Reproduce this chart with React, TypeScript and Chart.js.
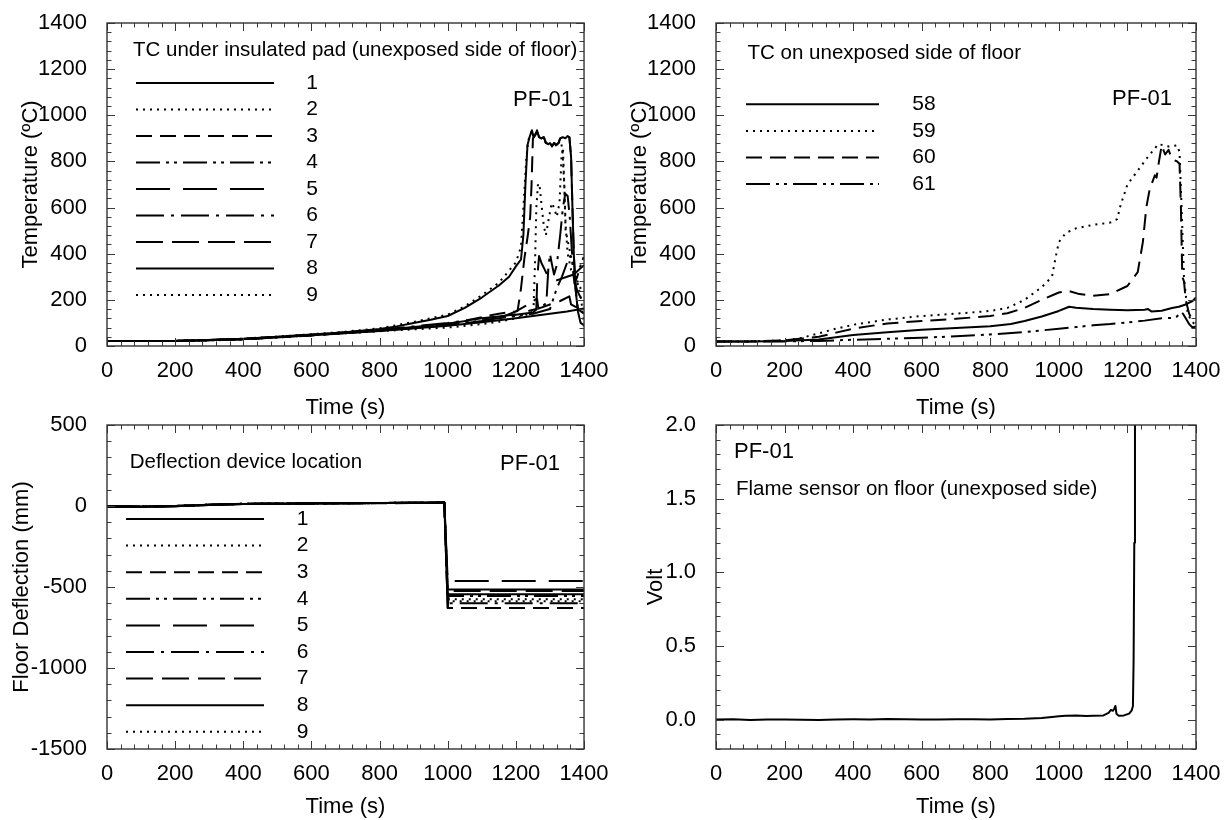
import React, { useEffect, useRef } from 'react';
import { Chart, registerables } from 'chart.js';

Chart.register(...registerables);

const FONT = '"Liberation Sans", Arial, Helvetica, sans-serif';

type Pt = [number, number];

// ---------------- shared axis ticks ----------------
const timeTicks = [0, 200, 400, 600, 800, 1000, 1200, 1400];
const tempTicks = [0, 200, 400, 600, 800, 1000, 1200, 1400];
const deflTicks = [-1500, -1000, -500, 0, 500];
const voltTicks = [0, 0.5, 1.0, 1.5, 2.0];

// ---------------- Panel A: TC under insulated pad ----------------
const padLabels = ['1', '2', '3', '4', '5', '6', '7', '8', '9'];
const padTc1: Pt[] = [[0,22],[100,22],[200,22],[300,25],[400,31],[500,40],[600,50],[700,60],[800,74],[850,85],[900,100],[950,114],[1000,130],[1050,165],[1100,210],[1150,262],[1180,300],[1200,345],[1215,375],[1222,480],[1228,700],[1234,870],[1240,905],[1247,935],[1252,905],[1257,915],[1262,935],[1268,905],[1275,900],[1282,905],[1288,880],[1295,875],[1300,880],[1306,865],[1312,880],[1318,870],[1325,880],[1330,900],[1338,905],[1345,900],[1352,910],[1357,905],[1362,820],[1366,600],[1370,400],[1375,250],[1382,150],[1390,100],[1400,90]];
const padTc2: Pt[] = [[0,22],[100,22],[200,22],[300,26],[400,32],[500,41],[600,51],[700,62],[800,77],[900,104],[1000,136],[1050,172],[1100,220],[1150,274],[1200,362],[1215,430],[1222,600],[1230,800],[1236,890],[1240,905],[1247,935],[1252,905],[1257,915],[1262,935],[1268,905],[1275,900],[1282,905],[1288,880],[1295,875],[1300,880],[1306,865],[1312,880],[1318,870],[1325,880],[1330,890],[1336,860],[1342,700],[1346,500],[1360,400],[1380,280],[1392,200],[1400,80]];
const padTc3: Pt[] = [[0,22],[200,22],[400,28],[600,46],[800,66],[900,80],[1000,95],[1050,110],[1100,125],[1150,140],[1200,150],[1205,152],[1215,250],[1225,380],[1235,480],[1242,560],[1246,700],[1250,900],[1257,915],[1262,935],[1268,905],[1275,900],[1282,905],[1288,880],[1295,875],[1300,880],[1306,865],[1312,880],[1318,870],[1325,880],[1330,900],[1338,905],[1345,900],[1352,910],[1357,905],[1362,820],[1366,600],[1370,400],[1375,250],[1382,160],[1400,140]];
const padTc4: Pt[] = [[0,22],[200,22],[400,29],[600,48],[800,67],[900,80],[1000,92],[1100,110],[1200,130],[1250,140],[1300,160],[1320,250],[1335,300],[1350,360],[1360,390],[1366,360],[1372,270],[1380,300],[1390,350],[1400,390]];
const padTc5: Pt[] = [[0,22],[200,22],[400,30],[600,48],[800,68],[900,82],[1000,97],[1100,118],[1150,128],[1200,138],[1260,160],[1263,300],[1268,390],[1275,360],[1285,330],[1295,300],[1310,280],[1330,290],[1350,300],[1370,310],[1385,330],[1400,350]];
const padTc6: Pt[] = [[0,22],[200,22],[400,30],[600,49],[800,70],[900,85],[1000,100],[1100,120],[1200,135],[1250,145],[1262,160],[1270,170],[1285,180],[1290,200],[1295,330],[1300,400],[1305,360],[1312,310],[1320,350],[1330,480],[1338,600],[1345,660],[1352,650],[1358,560],[1364,420],[1370,300],[1380,240],[1390,210],[1400,200]];
const padTc7: Pt[] = [[0,22],[200,22],[400,29],[600,47],[800,66],[900,78],[1000,90],[1100,108],[1150,120],[1200,150],[1230,175],[1262,205],[1266,162],[1300,180],[1330,195],[1357,215],[1362,180],[1375,170],[1390,165],[1400,160]];
const padTc8: Pt[] = [[0,22],[200,22],[400,30],[600,47],[800,65],[1000,88],[1100,103],[1200,120],[1300,140],[1350,150],[1400,163]];
const padTc9: Pt[] = [[0,22],[100,22],[200,22],[300,24],[400,29],[500,37],[600,46],[700,55],[800,64],[900,72],[1000,80],[1100,95],[1150,105],[1200,120],[1240,140],[1252,170],[1256,350],[1260,600],[1265,705],[1270,690],[1276,600],[1282,520],[1288,480],[1295,540],[1305,620],[1312,600],[1320,560],[1328,620],[1334,820],[1338,860],[1342,700],[1346,520],[1352,400],[1362,330],[1375,300],[1390,250],[1400,230]];

// ---------------- Panel B: TC on unexposed side ----------------
const unexpLabels = ['58', '59', '60', '61'];
const unexp58: Pt[] = [[0,20],[100,20],[200,22],[300,28],[400,48],[500,60],[600,70],[700,78],[800,86],[860,95],[900,108],[950,128],[1000,152],[1030,170],[1050,166],[1100,160],[1150,157],[1200,155],[1250,157],[1260,160],[1270,150],[1300,153],[1330,165],[1350,170],[1370,180],[1390,195],[1400,210]];
const unexp59: Pt[] = [[0,20],[100,20],[200,24],[250,35],[300,55],[350,75],[400,92],[500,115],[600,130],[700,140],[800,152],[850,165],[900,200],[950,255],[980,300],[990,380],[1000,450],[1020,490],[1050,510],[1100,525],[1150,535],[1170,550],[1180,610],[1200,700],[1230,760],[1260,820],[1290,875],[1320,865],[1345,870],[1352,840],[1358,600],[1365,300],[1375,150],[1385,110],[1400,90]];
const unexp60: Pt[] = [[0,20],[100,20],[200,24],[250,32],[300,40],[350,58],[400,75],[500,98],[600,108],[700,118],[800,130],[850,142],[900,165],[950,200],[1000,232],[1030,238],[1060,225],[1100,218],[1150,225],[1200,260],[1230,320],[1245,450],[1255,600],[1265,680],[1280,740],[1285,730],[1292,800],[1300,870],[1310,830],[1320,850],[1330,810],[1345,800],[1352,790],[1356,600],[1360,300],[1365,280],[1370,200],[1380,140],[1390,110],[1400,100]];
const unexp61: Pt[] = [[0,20],[100,20],[200,20],[300,22],[400,27],[500,31],[600,36],[700,42],[800,50],[900,60],[1000,75],[1050,82],[1100,90],[1150,95],[1200,102],[1250,110],[1300,120],[1330,122],[1345,128],[1355,148],[1362,140],[1370,120],[1380,95],[1390,80],[1400,85]];

// ---------------- Panel C: floor deflection ----------------
const deflLabels = ['1', '2', '3', '4', '5', '6', '7', '8', '9'];
const deflTime = [0, 100, 200, 300, 400, 600, 800, 990, 1000, 1003, 1400];
const defl1 = [-3, -4, -1, 7, 13, 16, 18, 22, -630, -545, -545];
const defl2 = [-2, -3, 0, 8, 14, 17, 19, 21, -575, -575, -575];
const defl3 = [-4, -4, 0, 6, 12, 15, 17, 20, -630, -630, -630];
const defl4 = [-2, -3, -1, 7, 13, 16, 18, 21, -555, -555, -555];
const defl5 = [-3, -3, 0, 8, 14, 17, 19, 22, -463, -463, -463];
const defl6 = [-3, -4, 0, 7, 13, 16, 18, 21, -600, -600, -600];
const defl7 = [-2, -3, 0, 7, 14, 17, 18, 22, -525, -525, -525];
const defl8 = [-3, -4, -1, 6, 13, 16, 18, 20, -515, -515, -515];
const defl9 = [-2, -3, 0, 8, 14, 17, 19, 21, -588, -588, -588];

// ---------------- Panel D: flame sensor ----------------
const voltTime = [0,50,100,150,200,250,300,350,400,450,500,550,600,650,700,750,800,850,900,950,980,1000,1020,1050,1080,1100,1130,1145,1152,1158,1162,1165,1168,1175,1190,1205,1212,1216,1218,1220,1222,1400];
const voltVal = [0.0,0.002,-0.003,0.001,0,-0.002,-0.003,0.001,0.002,0.001,0.003,0.002,0,0.001,0.002,0.002,0.001,0.003,0.005,0.01,0.018,0.022,0.026,0.027,0.024,0.025,0.028,0.045,0.065,0.06,0.075,0.092,0.04,0.025,0.028,0.04,0.06,0.09,0.4,1.2,2.5,2.5];

// ---------------- styles ----------------
const DASH = {
  solid: [] as number[],
  dot: [2, 5],
  dash: [16, 8],
  dashDotDot: [24, 6, 3, 5, 3, 6],
  longDash: [34, 13],
  dashDot: [28, 7, 3, 7],
  dash2: [27, 9],
};
const padDashes = [DASH.solid, DASH.dot, DASH.dash, DASH.dashDotDot, DASH.longDash, DASH.dashDot, DASH.dash2, DASH.solid, DASH.dot];
const unexpDashes = [DASH.solid, DASH.dot, DASH.dash, DASH.dashDotDot];

const zip = (t: number[], v: number[]): Pt[] => t.map((x, i) => [x, v[i]]);

type Series = { label: string; data: Pt[]; dash: number[] };
type TextItem = { text: string; x: number; y: number; align: CanvasTextAlign; size: number };
type PanelCfg = {
  left: number; top: number; w: number; h: number;
  area: { l: number; t: number; r: number; b: number };
  yMin: number; yMax: number; yTicks: number[]; yMinor: number; yMajor: number; yDecimals: number;
  yTitle: string; yTitlePad: number; xTitlePad: number;
  series: Series[];
  legend?: { x1: number; x2: number; numX: number; y0: number; dy: number };
  texts: TextItem[];
};

const W = 614, H = 420;

const panels: PanelCfg[] = [
  {
    left: 0, top: 0, w: W, h: H,
    area: { l: 107, t: 23, r: 587, b: 346 },
    yMin: 0, yMax: 1400, yTicks: tempTicks, yMinor: 40, yMajor: 200, yDecimals: 0,
    yTitle: 'Temperature (ºC)', yTitlePad: 20, xTitlePad: 1,
    series: [padTc1, padTc2, padTc3, padTc4, padTc5, padTc6, padTc7, padTc8, padTc9].map((d, i) => ({ label: padLabels[i], data: d, dash: padDashes[i] })),
    legend: { x1: 136, x2: 274, numX: 312, y0: 83, dy: 26.5 },
    texts: [
      { text: 'TC under insulated pad (unexposed side of floor)', x: 133, y: 50, align: 'left', size: 20.5 },
      { text: 'PF-01', x: 573, y: 100, align: 'right', size: 22 },
    ],
  },
  {
    left: 614, top: 0, w: W, h: H,
    area: { l: 102, t: 23, r: 582, b: 346 },
    yMin: 0, yMax: 1400, yTicks: tempTicks, yMinor: 40, yMajor: 200, yDecimals: 0,
    yTitle: 'Temperature (ºC)', yTitlePad: 14.6, xTitlePad: 1,
    series: [unexp58, unexp59, unexp60, unexp61].map((d, i) => ({ label: unexpLabels[i], data: d, dash: unexpDashes[i] })),
    legend: { x1: 132, x2: 265, numX: 310, y0: 104.3, dy: 26.6 },
    texts: [
      { text: 'TC on unexposed side of floor', x: 133.6, y: 53, align: 'left', size: 20.5 },
      { text: 'PF-01', x: 558, y: 99, align: 'right', size: 22 },
    ],
  },
  {
    left: 0, top: 400, w: W, h: H,
    area: { l: 107, t: 25, r: 587, b: 349 },
    yMin: -1500, yMax: 500, yTicks: deflTicks, yMinor: 100, yMajor: 500, yDecimals: 0,
    yTitle: 'Floor Deflection (mm)', yTitlePad: 10.6, xTitlePad: 2,
    series: [defl1, defl2, defl3, defl4, defl5, defl6, defl7, defl8, defl9].map((v, i) => ({ label: deflLabels[i], data: zip(deflTime, v), dash: padDashes[i] })),
    legend: { x1: 126, x2: 264, numX: 302.5, y0: 119, dy: 26.6 },
    texts: [
      { text: 'Deflection device location', x: 129.7, y: 62.3, align: 'left', size: 20.5 },
      { text: 'PF-01', x: 560, y: 64, align: 'right', size: 22 },
    ],
  },
  {
    left: 614, top: 400, w: W, h: H,
    area: { l: 102, t: 25, r: 582, b: 349 },
    yMin: -0.2, yMax: 2.0, yTicks: voltTicks, yMinor: 0.1, yMajor: 0.5, yDecimals: 1,
    yTitle: 'Volt', yTitlePad: 31, xTitlePad: 2,
    series: [{ label: 'flame', data: zip(voltTime, voltVal), dash: DASH.solid }],
    texts: [
      { text: 'PF-01', x: 120, y: 51.7, align: 'left', size: 22 },
      { text: 'Flame sensor on floor (unexposed side)', x: 122, y: 89.3, align: 'left', size: 20.5 },
    ],
  },
];

function makeFramePlugin(cfg: PanelCfg) {
  return {
    id: 'frameAndNotes',
    afterDraw(chart: any) {
      const { ctx, chartArea: a, scales } = chart;
      const xs = scales.x, ys = scales.y;
      ctx.save();
      ctx.strokeStyle = '#3a3a3a';
      ctx.lineWidth = 1;
      const seg = (x1: number, y1: number, x2: number, y2: number) => {
        ctx.beginPath(); ctx.moveTo(x1, y1); ctx.lineTo(x2, y2); ctx.stroke();
      };
      const nX = Math.round(1400 / 40);
      for (let i = 0; i <= nX; i++) {
        const v = i * 40;
        const major = Math.abs(v / 200 - Math.round(v / 200)) < 1e-6;
        const len = major ? 8 : 4.5;
        const px = Math.round(xs.getPixelForValue(v)) + 0.5;
        seg(px, a.bottom, px, a.bottom - len);
        seg(px, a.top, px, a.top + len);
      }
      const nY = Math.round((cfg.yMax - cfg.yMin) / cfg.yMinor);
      for (let i = 0; i <= nY; i++) {
        const v = cfg.yMin + i * cfg.yMinor;
        const r = v / cfg.yMajor;
        const major = Math.abs(r - Math.round(r)) < 1e-6;
        const len = major ? 8 : 4.5;
        const py = Math.round(ys.getPixelForValue(v)) + 0.5;
        seg(a.left, py, a.left + len, py);
        seg(a.right, py, a.right - len, py);
      }
      ctx.lineWidth = 1.4;
      ctx.strokeStyle = '#333';
      ctx.strokeRect(a.left, a.top, a.right - a.left, a.bottom - a.top);

      ctx.fillStyle = '#000';
      ctx.textBaseline = 'middle';
      if (cfg.legend) {
        const L = cfg.legend;
        chart.data.datasets.forEach((ds: any, i: number) => {
          const y = L.y0 + i * L.dy;
          ctx.strokeStyle = '#000';
          ctx.lineWidth = 2;
          ctx.lineCap = 'butt';
          ctx.setLineDash(ds.borderDash || []);
          seg(L.x1, y, L.x2, y);
          ctx.setLineDash([]);
          ctx.font = `21px ${FONT}`;
          ctx.textAlign = 'center';
          ctx.fillText(ds.label, L.numX, y);
        });
      }
      for (const t of cfg.texts) {
        ctx.font = `${t.size}px ${FONT}`;
        ctx.textAlign = t.align;
        ctx.fillText(t.text, t.x, t.y);
      }
      ctx.restore();
    },
  };
}

function Panel({ cfg }: { cfg: PanelCfg }) {
  const ref = useRef<HTMLCanvasElement | null>(null);
  useEffect(() => {
    if (!ref.current) return;
    const tickFont = { family: FONT, size: 22, lineHeight: 1 };
    const chart = new Chart(ref.current, {
      type: 'line',
      data: {
        datasets: cfg.series.map((s) => ({
          label: s.label,
          data: s.data.map(([x, y]) => ({ x, y })),
          borderColor: '#000',
          backgroundColor: '#000',
          borderWidth: 2,
          borderDash: s.dash,
          pointRadius: 0,
          fill: false,
          tension: 0,
          borderJoinStyle: 'round',
        })),
      },
      options: {
        animation: false,
        responsive: false,
        devicePixelRatio: 1,
        events: [],
        layout: { padding: { top: cfg.area.t, right: cfg.w - cfg.area.r, left: 0, bottom: 0 } },
        plugins: { legend: { display: false }, tooltip: { enabled: false } },
        scales: {
          x: {
            type: 'linear',
            position: 'bottom',
            min: 0,
            max: 1400,
            afterBuildTicks: (s: any) => { s.ticks = timeTicks.map((v) => ({ value: v })); },
            afterFit: (s: any) => { s.height = cfg.h - cfg.area.b; },
            ticks: { autoSkip: false, maxRotation: 0, padding: 5.5, color: '#000', font: tickFont, callback: (v: any) => String(v) },
            grid: { display: false },
            border: { display: false },
            title: { display: true, text: 'Time (s)', color: '#000', font: tickFont, padding: { top: 0, bottom: cfg.xTitlePad } },
          },
          y: {
            type: 'linear',
            position: 'left',
            min: cfg.yMin,
            max: cfg.yMax,
            afterBuildTicks: (s: any) => { s.ticks = cfg.yTicks.map((v) => ({ value: v })); },
            afterFit: (s: any) => { s.width = cfg.area.l; },
            ticks: { autoSkip: false, padding: 12, color: '#000', font: tickFont, callback: (v: any) => cfg.yDecimals ? Number(v).toFixed(cfg.yDecimals) : String(v) },
            grid: { display: false },
            border: { display: false },
            title: { display: true, text: cfg.yTitle, color: '#000', font: tickFont, padding: { top: cfg.yTitlePad, bottom: 0 } },
          },
        },
      } as any,
      plugins: [makeFramePlugin(cfg)],
    });
    return () => chart.destroy();
  }, [cfg]);
  return (
    <canvas
      ref={ref}
      width={cfg.w}
      height={cfg.h}
      style={{ position: 'absolute', left: cfg.left, top: cfg.top, width: cfg.w, height: cfg.h }}
    />
  );
}

export default function App() {
  return (
    <div style={{ position: 'fixed', left: 0, top: 0, width: 1228, height: 820, background: '#fff', overflow: 'hidden' }}>
      {panels.map((p, i) => (
        <Panel key={i} cfg={p} />
      ))}
    </div>
  );
}
